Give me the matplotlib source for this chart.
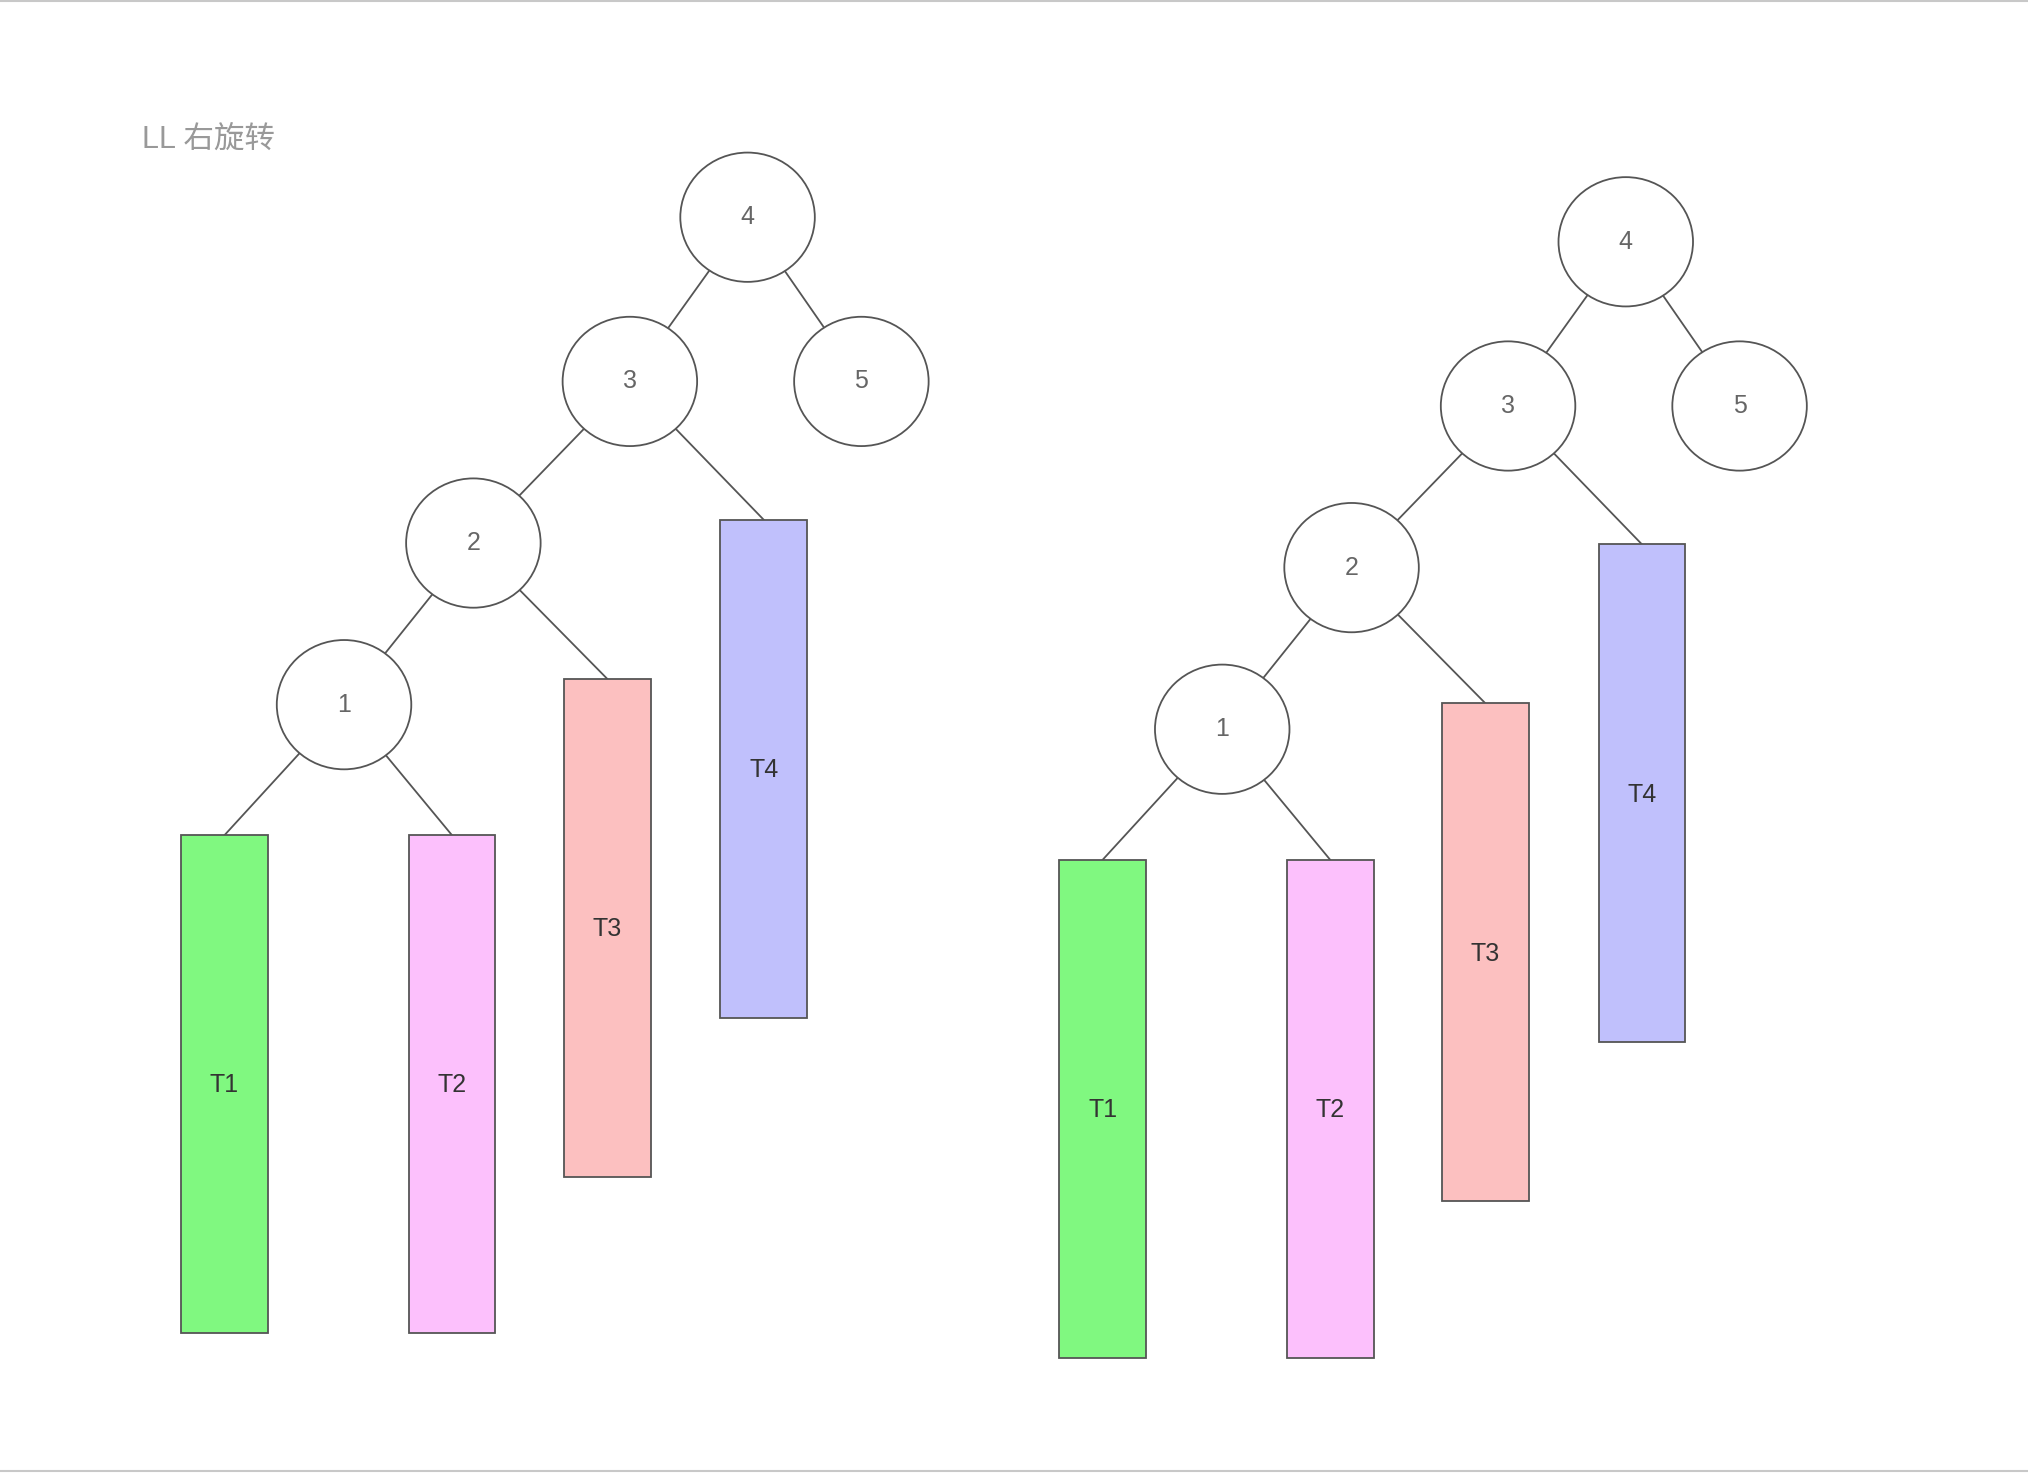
import matplotlib.pyplot as plt
from matplotlib.patches import Ellipse, Rectangle

plt.rcParams['font.family'] = ['Liberation Sans', 'Noto Sans CJK SC', 'DejaVu Sans']

# diagram in reference display pixels (1568 x 1140)
node_names = ['4', '3', '5', '2', '1']
node_x = [578, 487, 666, 366, 266]
node_y = [168, 295, 295, 420, 545]
sub_names = ['T1', 'T2', 'T3', 'T4']
sub_left = [140, 316, 436, 557]
sub_top = [646, 646, 525, 402]
sub_colors = ['#80f880', '#fcc0fc', '#fcc0c0', '#c0c0fc']
node_edges = [('4', '3'), ('4', '5'), ('3', '2'), ('2', '1')]
sub_edges = [('1', 'T1'), ('1', 'T2'), ('2', 'T3'), ('3', 'T4')]
copy_offsets = [(0, 0), (679, 19)]
sub_w, sub_h = 67, 385
node_w, node_h = 104, 100

fig = plt.figure(figsize=(20.28, 14.74), dpi=100)
ax = fig.add_axes([0, 0, 1, 1])
ax.set_xlim(0, 1568)
ax.set_ylim(1140, 0)
ax.axis('off')

ax.axhline(1, color='#c8c8c8', lw=1.5)
ax.axhline(1138, color='#c8c8c8', lw=1.5)
ax.text(110, 108, 'LL 右旋转', fontsize=22, color='#999999', va='center')

for dx, dy in copy_offsets:
    pos = {n: (x + dx, y + dy) for n, x, y in zip(node_names, node_x, node_y)}
    for n, l, t in zip(sub_names, sub_left, sub_top):
        pos[n] = (l + dx + sub_w / 2, t + dy)
    for a, b in node_edges + sub_edges:
        ax.plot([pos[a][0], pos[b][0]], [pos[a][1], pos[b][1]], color='#555555', lw=1.3, zorder=1)
    for n, l, t, c in zip(sub_names, sub_left, sub_top, sub_colors):
        ax.add_patch(Rectangle((l + dx, t + dy), sub_w, sub_h, facecolor=c, edgecolor='#555555', lw=1.3, zorder=2))
        ax.text(l + dx + sub_w / 2, t + dy + sub_h / 2 + 1, n, fontsize=18, color='#333333', ha='center', va='center', zorder=3)
    for n in node_names:
        x, y = pos[n]
        ax.add_patch(Ellipse((x, y), node_w, node_h, facecolor='white', edgecolor='#555555', lw=1.3, zorder=2))
        ax.text(x, y, n, fontsize=18, color='#666666', ha='center', va='center', zorder=3)

fig.savefig('out.png')
